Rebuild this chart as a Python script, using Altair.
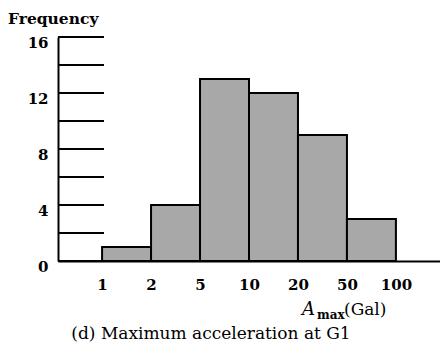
import altair as alt
import pandas as pd

# Histogram of maximum acceleration (log-spaced bins)
bin_edges = ["1", "2", "5", "10", "20", "50", "100"]
counts = [1, 4, 13, 12, 9, 3]
y_ticks = [0, 2, 4, 6, 8, 10, 12, 14, 16]
y_labels = [0, 4, 8, 12, 16]

FONT = "DejaVu Serif"

bars_df = pd.DataFrame({
    "lo": list(range(len(counts))),
    "hi": [i + 1 for i in range(len(counts))],
    "count": counts,
})
ticks_df = pd.DataFrame({"v": y_ticks})

label_expr = "[" + ",".join(f"'{s}'" for s in bin_edges) + "][datum.value]"

x_scale = alt.Scale(domain=[-0.9, 6.9], nice=False, zero=False)
y_scale = alt.Scale(domain=[0, 16], nice=False)

bars = alt.Chart(bars_df).mark_bar(
    fill="#a8a8a8", stroke="black", strokeWidth=2, binSpacing=0
).encode(
    x=alt.X("lo:Q", scale=x_scale, axis=alt.Axis(
        values=list(range(len(bin_edges))), labelExpr=label_expr,
        ticks=False, grid=False, domainColor="black", domainWidth=2,
        labelFont=FONT, labelFontSize=15, labelFontWeight="bold",
        labelColor="black", labelPadding=16, title=None)),
    x2="hi:Q",
    y=alt.Y("count:Q", scale=y_scale, axis=alt.Axis(
        values=y_labels, ticks=False, grid=False, domainColor="black",
        domainWidth=2, labelFont=FONT, labelFontSize=15, labelFontWeight="bold",
        labelColor="black", labelPadding=10, labelOffset=5, title=None)),
    y2=alt.value(224),
)

# Inward tick marks on the frequency axis
ticks = alt.Chart(ticks_df).mark_rule(color="black", strokeWidth=2).encode(
    y=alt.Y("v:Q", scale=y_scale),
    x=alt.value(0),
    x2=alt.value(46),
)

def label(text, x, y, size=15, style="normal", weight="normal", align="left"):
    return alt.Chart(pd.DataFrame({"t": [text]})).mark_text(
        font=FONT, fontSize=size, fontStyle=style, fontWeight=weight,
        align=align, baseline="alphabetic", color="black",
    ).encode(text="t:N", x=alt.value(x), y=alt.value(y))

# Text positions are relative to the plot area's top-left corner
texts = [
    label("Frequency", -50, -13, size=15.5, weight="bold"),
    label("A", 244, 278, size=18, style="italic"),
    label("max", 259, 282, size=12, weight="bold"),
    label("(Gal)", 286, 278, size=17),
    label("(d) Maximum acceleration at G1", 153, 302, size=17, align="center"),
]

chart = alt.layer(bars, ticks, *texts).properties(
    width=382, height=224,
    background="white",
    autosize=alt.AutoSizeParams(type="none"),
    padding={"left": 58, "top": 37, "right": 0, "bottom": 86},
).configure_view(stroke=None)

chart.save("out.html", embed_options={"renderer": "svg", "actions": False})
